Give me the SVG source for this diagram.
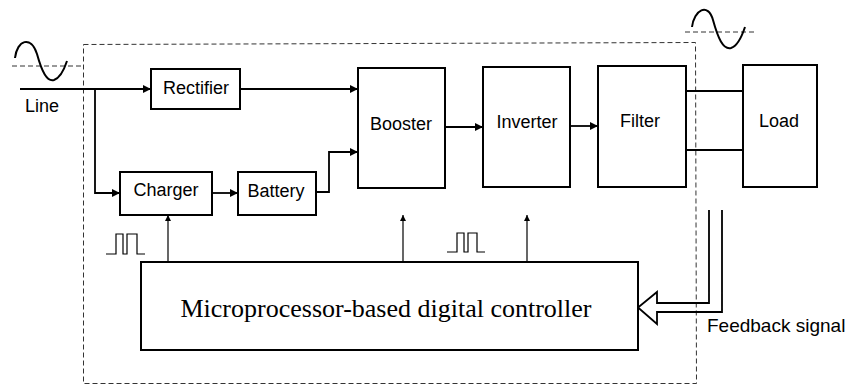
<svg xmlns="http://www.w3.org/2000/svg" width="846" height="386" viewBox="0 0 846 386">
  <defs>
    <style>
      .box { fill: #fff; stroke: #000; stroke-width: 2; }
      .lbl { font-family: "Liberation Sans", Arial, sans-serif; font-size: 18px; fill: #000; }
      .ctl { font-family: "Liberation Serif", "Times New Roman", serif; font-size: 26px; fill: #000; }
      .wire { fill: none; stroke: #000; stroke-width: 1.8; }
      .thin { fill: none; stroke: #000; stroke-width: 1.2; }
      .dash { fill: none; stroke: #333; stroke-width: 1; stroke-dasharray: 5 3; }
      .wave { fill: none; stroke: #000; stroke-width: 2; }
    </style>
    <marker id="ah" viewBox="0 0 10 10" refX="10" refY="5" markerWidth="9" markerHeight="8" markerUnits="userSpaceOnUse" orient="auto">
      <path d="M0,0 L10,5 L0,10 Z" fill="#000"/>
    </marker>
    <marker id="ahs" viewBox="0 0 10 10" refX="10" refY="5" markerWidth="8" markerHeight="6" markerUnits="userSpaceOnUse" orient="auto">
      <path d="M0,0 L10,5 L0,10 Z" fill="#000"/>
    </marker>
  </defs>
  <rect width="846" height="386" fill="#fff"/>

  <!-- boundary and waveform references -->
  <g id="boundary">
    <path class="dash" d="M83.5,44.5 L695.5,42.5 L696.5,383.5 L83.5,383.5 Z"/>
    <line class="dash" x1="12" y1="66" x2="83" y2="66"/>
    <line class="dash" x1="685" y1="32" x2="755" y2="32"/>
    <path class="wave" d="M15,58 C17,40 31,35 37,54 C42,72 47,82 54,80 C60,78 64,70 67,61"/>
    <path class="wave" d="M692,27 C694,10 708,2 713,20 C718,38 723,50 731,48 C738,46 742,36 745,27"/>
    <path class="thin" d="M106,254 H116 V234 H123 V254 H127 V234 H137 V254 H145"/>
    <path class="thin" d="M447,252 H457 V233 H464 V252 H468 V233 H477 V252 H485"/>
  </g>

  <g id="connectors">
    <path class="wire" d="M20,89 H151" marker-end="url(#ah)"/>
    <path class="wire" d="M240,89 H358" marker-end="url(#ah)"/>
    <path class="wire" d="M95,89 V193 H120" marker-end="url(#ah)"/>
    <path class="wire" d="M212,193 H238" marker-end="url(#ah)"/>
    <path class="wire" d="M316,192 H329 V152 H358" marker-end="url(#ah)"/>
    <path class="wire" d="M445,127 H483" marker-end="url(#ah)"/>
    <path class="wire" d="M570,126 H598" marker-end="url(#ah)"/>
    <path class="wire" d="M686,91 H743"/>
    <path class="wire" d="M686,150 H743"/>
    <path class="thin" d="M168,263 V215" marker-end="url(#ahs)"/>
    <path class="thin" d="M403,262 V215" marker-end="url(#ahs)"/>
    <path class="thin" d="M527,262 V215" marker-end="url(#ahs)"/>
    <path class="wire" fill="#fff" d="M709,210 V303 H657 V292 L638,307.5 L657,324 V312 H722 V210"/>
  </g>

  <g id="rectifier">
    <rect class="box" x="151" y="69" width="89" height="40"/>
    <text class="lbl" x="196" y="94" text-anchor="middle">Rectifier</text>
  </g>
  <g id="charger">
    <rect class="box" x="120" y="172" width="92" height="43"/>
    <text class="lbl" x="166" y="196" text-anchor="middle">Charger</text>
  </g>
  <g id="battery">
    <rect class="box" x="238" y="172" width="78" height="43"/>
    <text class="lbl" x="276" y="197" text-anchor="middle">Battery</text>
  </g>
  <g id="booster">
    <rect class="box" x="358" y="68" width="87" height="120"/>
    <text class="lbl" x="401" y="130" text-anchor="middle">Booster</text>
  </g>
  <g id="inverter">
    <rect class="box" x="483" y="67" width="87" height="120"/>
    <text class="lbl" x="527" y="128" text-anchor="middle">Inverter</text>
  </g>
  <g id="filter">
    <rect class="box" x="598" y="66" width="88" height="121"/>
    <text class="lbl" x="640" y="127" text-anchor="middle">Filter</text>
  </g>
  <g id="load">
    <rect class="box" x="743" y="65" width="74" height="122"/>
    <text class="lbl" x="779" y="127" text-anchor="middle">Load</text>
  </g>
  <g id="controller">
    <rect class="box" x="141" y="262" width="497" height="88"/>
    <text class="ctl" x="386" y="317" text-anchor="middle">Microprocessor-based digital controller</text>
  </g>
  <g id="labels">
    <text class="lbl" x="25" y="112">Line</text>
    <text class="lbl" x="707" y="332" style="font-size:19px">Feedback signal</text>
  </g>
</svg>
